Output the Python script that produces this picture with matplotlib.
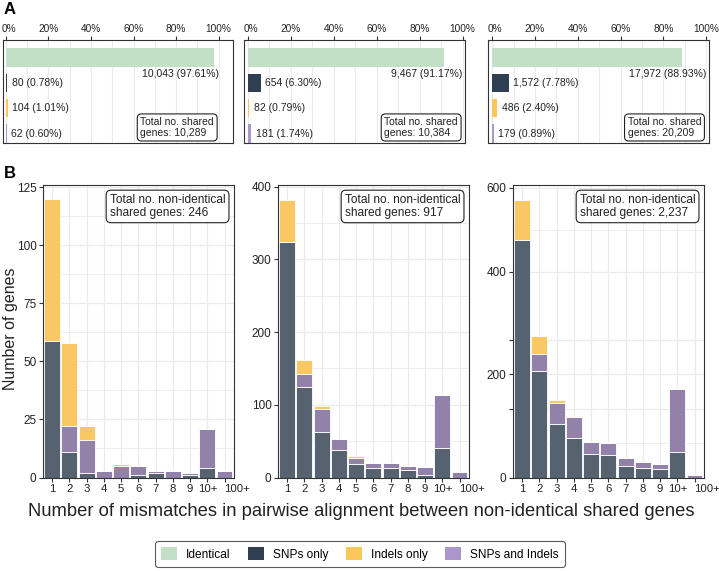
import numpy as np
import matplotlib
matplotlib.use("Agg")
import matplotlib.pyplot as plt
from matplotlib.patches import Patch
from matplotlib.scale import FuncScale
import matplotlib.transforms as mtrans

plt.rcParams['font.family'] = ['Liberation Sans', 'DejaVu Sans']

# ---- data: panel A (shared genes by type) ----
a_types = ['Identical', 'SNPs only', 'Indels only', 'SNPs and Indels']
a_counts = [
    [10043, 80, 104, 62],
    [9467, 654, 82, 181],
    [17972, 1572, 486, 179],
]
a_totals = [10289, 10384, 20209]

# ---- data: panel B (mismatch counts, non-identical shared genes) ----
b_cats = ['1', '2', '3', '4', '5', '6', '7', '8', '9', '10+', '100+']
b_snps = [
    [59, 11, 2, 0, 0, 1, 2, 0, 1, 4, 0],
    [324, 125, 63, 38, 19, 13, 13, 10, 4, 41, 0],
    [477, 207, 104, 77, 46, 43, 23, 19, 16, 50, 0],
]
b_both = [
    [0, 11, 14, 3, 5, 4, 1, 3, 1, 17, 3],
    [0, 18, 31, 15, 8, 7, 7, 6, 11, 73, 8],
    [0, 33, 41, 41, 23, 24, 15, 11, 10, 121, 4],
]
b_indels = [
    [61, 36, 6, 0, 1, 0, 0, 0, 0, 0, 0],
    [58, 18, 5, 0, 2, 0, 0, 0, 0, 0, 0],
    [94, 35, 5, 1, 0, 0, 0, 0, 1, 0, 0],
]
b_totals = ['246', '917', '2,237']

# colours
a_cols = ['#c1e0c6', '#2f3e50', '#fbc65a', '#a997cb']
snp_b, both_b, ind_b = '#56626f', '#9282a9', '#f9c863'
grid_c = '#ebebeb'
edge_c = '#333333'
txt_c = '#222222'

W, H = 719, 571
fig = plt.figure(figsize=(W / 100, H / 100), dpi=100)


def px_axes(x0, y0, x1, y1):
    return fig.add_axes([x0 / W, 1 - y1 / H, (x1 - x0) / W, (y1 - y0) / H])


def px_shift(dx):
    return mtrans.ScaledTranslation(dx / 100, 0, fig.dpi_scale_trans)


def style_box(ax):
    for s in ax.spines.values():
        s.set_color(edge_c)
        s.set_linewidth(0.8)
    ax.set_axisbelow(True)


# ---------------- panel A ----------------
# (box left, box right, px of 0%, px of 100%)
a_layout = [(3, 233, 5.7, 218.7), (244.3, 465, 247.7, 462.7), (488.3, 709, 492.3, 706)]
for i, (x0, x1, z, h) in enumerate(a_layout):
    ax = px_axes(x0, 40, x1, 143)
    style_box(ax)
    span = h - z
    ax.set_xlim((x0 - z) / span, (x1 - z) / span)
    ax.set_ylim(3.37, -0.69)
    counts = a_counts[i]
    frac = [c / a_totals[i] for c in counts]
    rows = np.arange(len(a_types))
    ax.barh(rows, frac, height=0.72, color=a_cols, zorder=2)
    for r, c, f in zip(rows, counts, frac):
        lab = f"{c:,} ({f * 100:.2f}%)"
        if r == 0:
            ax.text(1.0, 0.66, lab, ha='right', va='center', fontsize=7.5, color=txt_c)
        else:
            ax.annotate(lab, (f, r), xytext=(3, 0), textcoords='offset points',
                        ha='left', va='center', fontsize=7.5, color=txt_c)
    ticks = np.arange(0, 1.01, 0.2)
    ax.set_xticks(ticks)
    ax.set_xticks(np.arange(0.1, 1.0, 0.2), minor=True)
    ax.set_xticklabels([f"{int(round(t * 100))}%" for t in ticks])
    ax.xaxis.tick_top()
    ax.tick_params(axis='x', which='major', labelsize=7.3, length=3, pad=1.5,
                   color=edge_c, labelcolor=txt_c)
    ax.tick_params(axis='x', which='minor', length=0)
    first = ax.get_xticklabels()[0]
    first.set_transform(first.get_transform() + px_shift(3))
    ax.set_yticks([])
    ax.grid(axis='x', which='both', color=grid_c, lw=0.8)
    tr = mtrans.blended_transform_factory(ax.transData, ax.transAxes)
    ax.text(0.978, 0.05, f"Total no. shared\ngenes: {a_totals[i]:,}", transform=tr,
            ha='right', va='bottom', multialignment='left', fontsize=7.5,
            linespacing=1.1, color=txt_c,
            bbox=dict(boxstyle='round,pad=0.3,rounding_size=0.4', fc='white',
                      ec=txt_c, lw=0.8))

# ---------------- panel B ----------------
knots_v = [-1000, 0, 200, 400, 600, 1000]
knots_p = [-517, 0, 103.4, 206, 290, 458]


def fwd(v):
    return np.interp(v, knots_v, knots_p)


def inv(p):
    return np.interp(p, knots_p, knots_v)


b_layout = [(42.7, 234), (277.7, 469), (512.7, 704)]
b_ylim = [126, 402.3, 607]
x = np.arange(len(b_cats))
for i, (x0, x1) in enumerate(b_layout):
    ax = px_axes(x0, 185, x1, 477.5)
    style_box(ax)
    if i == 2:
        ax.set_yscale(FuncScale(ax.yaxis, (fwd, inv)))
    snp = np.array(b_snps[i])
    both = np.array(b_both[i])
    ind = np.array(b_indels[i])
    kw = dict(width=0.92, edgecolor='white', linewidth=0.6, zorder=2)
    ax.bar(x, snp, color=snp_b, **kw)
    ax.bar(x, both, bottom=snp, color=both_b, **kw)
    ax.bar(x, ind, bottom=snp + both, color=ind_b, **kw)
    ax.set_xlim(-0.55, len(b_cats) - 0.45)
    ax.set_ylim(0, b_ylim[i])
    ax.set_xticks(x)
    ax.set_xticklabels(b_cats)
    last = ax.get_xticklabels()[-1]
    last.set_ha('left')
    last.set_transform(last.get_transform() + px_shift(-5))
    if i == 0:
        ax.set_yticks(np.arange(0, 126, 25))
        ax.set_yticks(np.arange(12.5, 126, 25), minor=True)
    elif i == 1:
        ax.set_yticks(np.arange(0, 401, 100))
        ax.set_yticks(np.arange(50, 401, 100), minor=True)
    else:
        ax.set_yticks([0, 133, 200, 267, 400, 600])
        ax.set_yticklabels(['0', '', '200', '', '400', '600'])
        ax.set_yticks([67, 500], minor=True)
    ax.tick_params(axis='both', which='major', length=3, pad=1.5,
                   color=edge_c, labelcolor=txt_c)
    ax.tick_params(axis='x', labelsize=8.2)
    ax.tick_params(axis='y', labelsize=8.5)
    ax.tick_params(axis='y', which='minor', length=0)
    ax.grid(which='major', color=grid_c, lw=0.9)
    ax.grid(axis='y', which='minor', color=grid_c, lw=0.6)
    ax.text(0.955, 0.97, f"Total no. non-identical\nshared genes: {b_totals[i]}",
            transform=ax.transAxes, ha='right', va='top', multialignment='left',
            fontsize=8.6, linespacing=1.15, color=txt_c,
            bbox=dict(boxstyle='round,pad=0.3,rounding_size=0.4', fc='white',
                      ec=txt_c, lw=0.8))

fig.text(4 / W, 1 - 10 / H, 'A', fontsize=12, fontweight='bold', va='center', ha='left')
fig.text(4 / W, 1 - 173 / H, 'B', fontsize=12, fontweight='bold', va='center', ha='left')
fig.text(11 / W, 1 - 329 / H, 'Number of genes', rotation=90, fontsize=11.5,
         ha='center', va='center', color=txt_c)
fig.text(361 / W, 1 - 511 / H,
         'Number of mismatches in pairwise alignment between non-identical shared genes',
         fontsize=13.2, ha='center', va='center', color=txt_c)

handles = [Patch(facecolor=c, edgecolor='none', label=l) for c, l in zip(a_cols, a_types)]
leg = fig.legend(handles=handles, ncol=4, loc='center', bbox_to_anchor=(360 / W, 1 - 554 / H),
                 fontsize=8.6, frameon=True, fancybox=True, handlelength=1.3,
                 handleheight=1.2, columnspacing=1.45, handletextpad=0.8,
                 borderpad=0.5)
leg.get_frame().set_edgecolor(edge_c)
leg.get_frame().set_linewidth(0.8)

fig.savefig('out.png', dpi=100)
